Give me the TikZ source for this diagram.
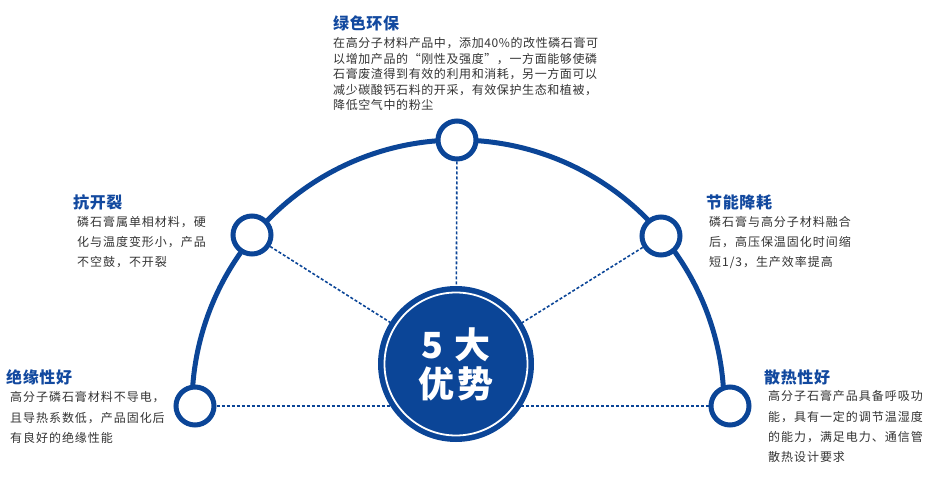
\documentclass[tikz,border=0pt]{standalone}
\usepackage{fontspec}
\setmainfont{Noto Sans CJK SC}
\newfontfamily\bodyfont{Noto Sans CJK SC}[LetterSpace=8]
\newfontfamily\topbodyfont{Noto Sans CJK SC}[LetterSpace=5]
\newfontfamily\titlefont{Noto Sans CJK SC}[LetterSpace=4]
\newfontfamily\bigfont{Noto Sans CJK SC}[LetterSpace=10]
\usetikzlibrary{backgrounds}
\definecolor{mainblue}{HTML}{0B4597}
\definecolor{titleblue}{HTML}{12499F}
\definecolor{bodygray}{HTML}{333333}
\tikzset{
  arcline/.style={draw=mainblue, line width=5pt},
  smallring/.style={circle, draw=mainblue, line width=5pt, fill=white, minimum size=38pt, inner sep=0pt},
  bigdisc/.style={circle, fill=mainblue, minimum size=156pt, inner sep=0pt, text=white, align=center,
    font=\bigfont\bfseries\fontsize{36}{39}\selectfont},
  dotline/.style={draw=mainblue, line width=1.6pt, dash pattern=on 3pt off 2pt},
  titletext/.style={anchor=north west, inner sep=0pt, text=titleblue,
    font=\titlefont\bfseries\fontsize{16}{20}\selectfont},
  bodytext/.style={anchor=north west, inner sep=0pt, text=bodygray, align=left},
}
\begin{document}
\begin{tikzpicture}[x=1pt,y=-1pt]
\useasboundingbox (0,0) rectangle (930,497);
\coordinate (O) at (458,406);
\draw[arcline] ([shift={(180:266pt)}]O) arc[start angle=180, end angle=0, radius=266pt];
\node[smallring] (LB) at (195,406) {};
\node[smallring] (LM) at (252,235) {};
\node[smallring] (T) at (457,140) {};
\node[smallring] (RM) at (661,236) {};
\node[smallring] (RB) at (730,406) {};
\node[bigdisc] (C) at (456,364) {5 大\\优势};
\draw[white, line width=1.8pt] (C.center) circle[radius=71.5pt];
\begin{pgfonlayer}{background}
\draw[dotline] (T) -- (C.center);
\draw[dotline] (LM) -- (C.center);
\draw[dotline] (RM) -- (C.center);
\draw[dotline] (LB) -- (C.center |- LB);
\draw[dotline] (RB) -- (C.center |- RB);
\end{pgfonlayer}
% top block
\node[titletext] (tT) at (333,15) {绿色环保};
\node[bodytext, font=\topbodyfont\fontsize{12}{15.5}\selectfont] (bT) at (333,37.3) {在高分子材料产品中，添加40\%的改性磷石膏可\\以增加产品的“刚性及强度”，一方面能够使磷\\石膏废渣得到有效的利用和消耗，另一方面可以\\减少碳酸钙石料的开采，有效保护生态和植被，\\降低空气中的粉尘};
% left middle
\node[titletext] (tLM) at (73,194.5) {抗开裂};
\node[bodytext, font=\bodyfont\fontsize{12}{20}\selectfont] (bLM) at (77,216.6) {磷石膏属单相材料，硬\\化与温度变形小，产品\\不空鼓，不开裂};
% right middle
\node[titletext] (tRM) at (706,194.5) {节能降耗};
\node[bodytext, font=\bodyfont\fontsize{12}{20}\selectfont] (bRM) at (709,216.6) {磷石膏与高分子材料融合\\后，高压保温固化时间缩\\短1/3，生产效率提高};
% left bottom
\node[titletext] (tLB) at (6,369.5) {绝缘性好};
\node[bodytext, font=\bodyfont\fontsize{12}{20.3}\selectfont] (bLB) at (10,391.6) {高分子磷石膏材料不导电，\\且导热系数低，产品固化后\\有良好的绝缘性能};
% right bottom
\node[titletext] (tRB) at (764,369.5) {散热性好};
\node[bodytext, font=\bodyfont\fontsize{12}{20.3}\selectfont] (bRB) at (768,390.6) {高分子石膏产品具备呼吸功\\能，具有一定的调节温湿度\\的能力，满足电力、通信管\\散热设计要求};
\end{tikzpicture}
\end{document}
